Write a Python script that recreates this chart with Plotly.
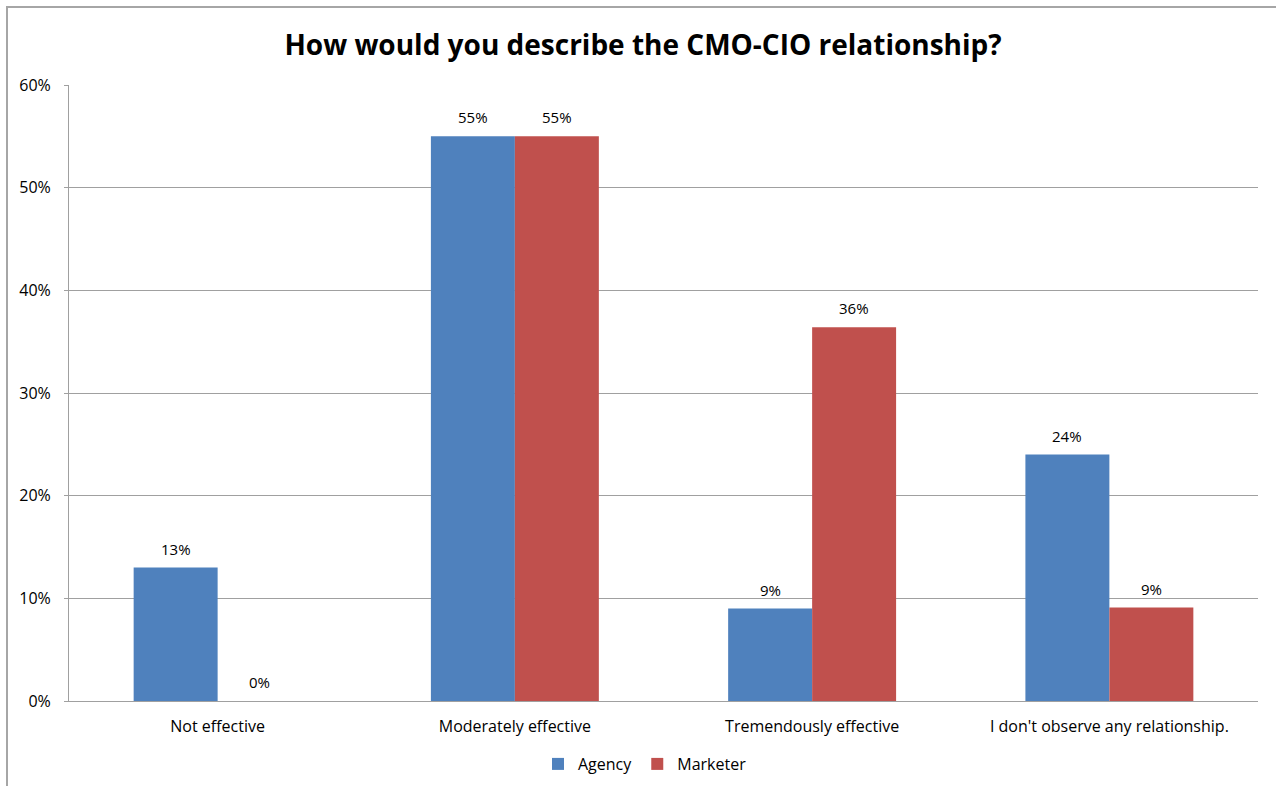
import plotly.graph_objects as go

categories = ["Not effective", "Moderately effective", "Tremendously effective",
              "I don't observe any relationship."]
agency = [0.13, 0.55, 0.09, 0.24]
marketer = [0.0, 0.55, 0.364, 0.091]

FONT = "Open Sans"
FS = 16
W, H = 1276, 786
L, R, T, B = 69, 18, 85, 85
BARGAP = 0.435

pw = W - L - R
ph = H - T - B
bar_px = pw / len(categories) * (1 - BARGAP) / 2

fig = go.Figure()
fig.add_trace(go.Bar(name="Agency", x=categories, y=agency, marker_color="#4F81BD",
                     marker_line_width=0))
fig.add_trace(go.Bar(name="Marketer", x=categories, y=marketer, marker_color="#C0504D",
                     marker_line_width=0))

# value labels above each bar
for vals, shift in ((agency, -bar_px / 2), (marketer, bar_px / 2)):
    for c, v in zip(categories, vals):
        fig.add_annotation(x=c, y=v, text=f"{v:.0%}", showarrow=False,
                           xshift=shift, yshift=19, yanchor="middle",
                           font=dict(family=FONT, size=15, color="#000000"))

# outer chart frame
fig.add_shape(type="rect", xref="paper", yref="paper",
              x0=(7 - L) / pw, x1=(W + 20 - L) / pw,
              y0=-(H + 20 - (H - B)) / ph, y1=1 + (T - 7) / ph,
              line=dict(color="#A6A6A6", width=2), fillcolor="rgba(0,0,0,0)", layer="below")

fig.update_layout(
    width=W, height=H,
    margin=dict(l=L, r=R, t=T, b=B, autoexpand=False),
    paper_bgcolor="white", plot_bgcolor="white",
    barmode="group", bargap=BARGAP, bargroupgap=0,
    font=dict(family=FONT, size=FS, color="#000000"),
    title=dict(text="<b>How would you describe the CMO-CIO relationship?</b>",
               x=643 / W, xanchor="center", y=1 - 45 / H, yanchor="middle",
               font=dict(family=FONT, size=28, color="#000000")),
    showlegend=True,
    legend=dict(orientation="h", x=645 / W, xanchor="center", xref="container",
                y=1 - 764 / H, yref="container", yanchor="middle",
                font=dict(family=FONT, size=FS), itemwidth=30, traceorder="normal"),
)
fig.update_yaxes(range=[0, 0.6], dtick=0.1, tickformat=".0%", showgrid=True,
                 gridcolor="#A0A0A0", gridwidth=1, showline=True, linecolor="#A0A0A0",
                 linewidth=1, ticks="outside", ticklen=4, tickcolor="#A0A0A0",
                 ticklabelstandoff=10, tickfont=dict(family=FONT, size=FS), zeroline=False,
                 automargin=False)
fig.update_xaxes(showline=True, linecolor="#A0A0A0", linewidth=1, ticks="",
                 ticklabelstandoff=11, tickfont=dict(family=FONT, size=FS), showgrid=False,
                 automargin=False)

fig.write_html("out.html")
